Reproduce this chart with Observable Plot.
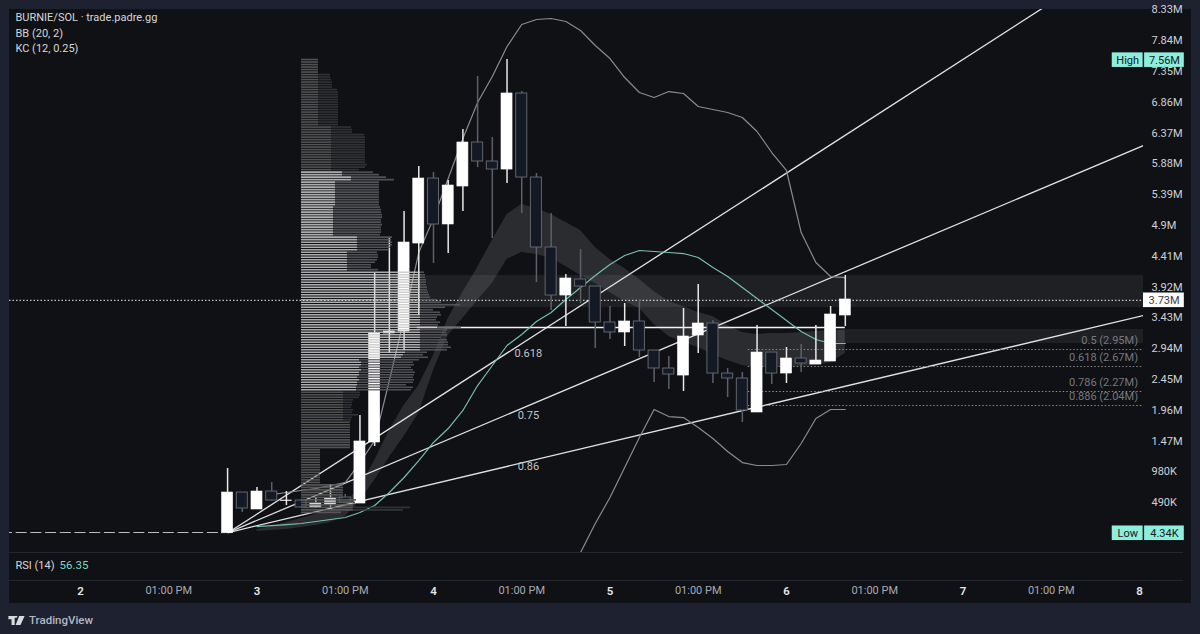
<!DOCTYPE html>
<html>
<head>
<meta charset="utf-8">
<script src="https://cdn.jsdelivr.net/npm/d3@7"></script>
<script src="https://cdn.jsdelivr.net/npm/@observablehq/plot@0.6"></script>
<style>
html,body{margin:0;padding:0;background:#1d2130;width:1200px;height:634px;overflow:hidden}
#wrap{position:absolute;left:9px;top:9px;width:1182px;height:594px;background:#0f1115}
#wrap svg{display:block}
#foot{position:absolute;left:8px;top:603px;height:34px;display:flex;align-items:center;gap:4px;color:#b4b7c0;font:500 11.5px Roboto,sans-serif}
</style>
</head>
<body>
<div id="wrap"></div>
<div id="foot"><svg width="17" height="9" viewBox="0 0 36 20"><path fill="#d8dae0" d="M0 0h14v20H7V7H0zM16 4a4 4 0 1 1 0.01 0zM24 0h12l-9 20H16z"/></svg><span>TradingView</span></div>
<script>
// Flat candles before launch (hours since day 2 00:00)
const flatHours = [-10,-8,-6,-4,-2,0,2,4,6,8,10,12,14,16,18];
const flatPrice = 0.016;
// 2-hour candles, millions
const firstCandleHour = 20;
const opens  = [0.004,0.652,0.382,0.668,0.517,0.525,0.414,0.461,0.573,0.477,1.448,3.182,3.213,4.613,5.647,4.916,5.520,6.220,5.918,5.790,7.000,5.663,4.550,3.786,4.041,3.929,3.357,3.198,3.373,2.911,2.625,2.513,3.150,3.341,2.545,2.466,1.925,2.879,2.545,2.784,2.688,2.736,3.468];
const closes = [0.652,0.398,0.668,0.525,0.525,0.414,0.477,0.557,0.493,1.464,3.182,3.213,4.629,5.647,4.916,5.536,6.220,5.918,5.790,7.000,5.663,4.550,3.786,4.057,3.929,3.357,3.198,3.373,2.911,2.625,2.529,3.134,3.341,2.545,2.466,1.957,2.879,2.545,2.784,2.704,2.752,3.484,3.723];
const highs  = [1.034,0.652,0.732,0.811,0.668,0.541,0.573,0.779,0.620,1.877,4.136,4.693,5.122,5.838,5.743,5.616,6.427,7.270,6.300,7.540,7.031,5.727,5.091,4.120,4.518,3.929,3.611,3.659,3.707,2.911,2.816,3.579,3.961,3.388,2.625,2.561,3.309,2.879,2.959,3.007,3.309,3.611,4.104];
const lows   = [0.004,0.334,0.382,0.509,0.445,0.414,0.398,0.382,0.493,0.477,1.384,2.863,2.911,3.468,4.295,4.454,5.122,5.822,4.693,5.568,5.091,3.993,3.547,3.293,3.659,2.943,3.086,2.975,2.800,2.402,2.291,2.259,2.863,2.386,2.163,1.766,1.925,2.370,2.386,2.561,2.688,2.736,3.293];
// Bollinger upper: candles 3..42; lower: candles 24..42
const bbUpper = [0.620,0.652,0.684,0.716,0.764,0.811,1.129,1.479,2.434,3.420,4.470,5.011,5.647,6.284,6.856,7.270,7.747,8.097,8.177,8.193,8.145,8.002,7.763,7.556,7.254,7.015,6.936,7.031,7.000,6.793,6.745,6.697,6.618,6.395,6.061,5.775,4.788,4.311,4.088,4.072];
const bbLower = [-0.302,0.159,0.573,1.050,1.527,1.973,1.861,1.845,1.686,1.511,1.304,1.129,1.082,1.082,1.098,1.432,1.829,1.973,1.973];
// Teal line and Keltner band: candles 2..42
const tealLine = [0.111,0.127,0.143,0.159,0.191,0.223,0.255,0.334,0.445,0.652,0.891,1.161,1.448,1.670,1.957,2.354,2.673,2.991,3.166,3.373,3.516,3.723,3.913,4.104,4.279,4.422,4.502,4.486,4.470,4.454,4.391,4.232,4.088,3.913,3.738,3.563,3.388,3.213,3.086,3.023,3.023];
const kcUpper = [0.064,0.111,0.175,0.239,0.302,0.366,0.477,0.732,1.161,1.639,2.036,2.354,2.832,3.420,3.834,4.232,4.661,5.075,5.234,5.170,5.075,4.947,4.820,4.550,4.359,4.216,4.041,3.850,3.691,3.611,3.516,3.452,3.309,3.197,3.166,3.182,3.182,3.197,3.213,3.229,3.229];
const kcLower = [0.032,0.048,0.064,0.095,0.127,0.175,0.270,0.525,0.843,1.209,1.543,1.909,2.593,3.150,3.420,3.707,3.977,4.359,4.470,4.438,4.375,4.247,4.104,3.977,3.834,3.691,3.579,3.325,3.134,3.038,2.959,2.848,2.752,2.673,2.641,2.641,2.641,2.657,2.673,2.720,2.863];
// Volume profile rows, top to bottom
const profileTop = 7.54, profileStep = 0.0398, profileHour = 30.05;
const profileUp = [
17,17,17,17,17,17, 17,17,17,17,17,17,
17,17,17,17,17,17,17,17,17,17,17,17,17,17,17,
30,30,30, 30,30,30,30,30,30,30,30,30,30,30,30, 30,30,30,
41,41, 50,50,
34,34,34,34,34,34,34,34,34,34,
32,32,32,32,32,32,32,32,32,32,32,32,
56,56,56,56,56,56,
46,46,46,46,46,46,46,46,
119,119,119,119,119,119,119,119,119,119,119,
119,119,119,119,
119,119,119,119,119,119,119, 136,
119,119,119,119,119,119,119,119,119,
104,102,100,
58,60,60,58,60,58,58,56,58,56,56,55,55,
42,42,42,42, 42,42,42,42,42,42,42,42,
49,49,49,49,49,49,49,49,49,49,49,
19,19,19,19,19,19,19,19,19,19,19,19,19,19,
42,42,42,42,42,42, 52,52,52, 52,52,40];
const profileTotal = [
17,17,17,17,17,17, 29,29,30,31,31,31,
36,37,37,37,37,37,37,37,37,37,37,37,37,37,37,
50,51,51, 63,64,64,64,64,64,64,64,64,64,64,64, 66,64,58,
72,78, 85,93,
78,78,78,78,78,78,78,78,78,78,
79,80,80,81,81,80,80,81,80,80,80,79,
91,90,91,91,89,88,
76,77,77,76,74,70,70,77,
123,124,124,125,125,125,126,126,127,128,129,
135,140,159,144,
132,139,140,136,135,139,137, 160,
146,145,146,140,146,147,147,150,146,
126,122,127,
118,112,113,110,112,114,113,112,113,112,105,112,110,
59,59,58,52, 51,51,50,52,51,57,51,50,
49,49,49,49,49,49,49,49,49,49,49,
19,19,19,19,19,19,19,19,19,19,19,19,19,19,
42,42,42,42,42,42, 55,54,54, 109,102,40];
const valueAreaFirst = 45, valueAreaLast = 132;
// Fib fan: origin and far ends
const fanOrigin = {hour:20.1, price:0.016};
const fanEnds = [{hour:131,price:8.37},{hour:144.55,price:6.172},{hour:144.55,price:3.468}];
const fanLabels = [{t:"0.618",price:2.863},{t:"0.75",price:1.877},{t:"0.86",price:1.066}];
// Levels
const fibPrices = [2.927,2.656,2.259,2.036];
const fibTexts = ["0.5 (2.95M)","0.618 (2.67M)","0.786 (2.27M)","0.886 (2.04M)"];
const pocPrice = 3.277, pocFromHour = 45.8;
const lastPriceLine = 3.71, lastPriceText = "3.73M";
const highPrice = 7.53, highText = "7.56M", lowPrice = 0.004, lowText = "4.34K";
const zones = [{from:40.1,top:4.104,bottom:3.595},{from:103,top:3.245,bottom:3.023}];
// Axes
const yTicks = [8.33,7.84,7.35,6.86,6.37,5.88,5.39,4.9,4.41,3.92,3.43,2.94,2.45,1.96,1.47,0.98,0.49];
const yTickLabels = ["8.33M","7.84M","7.35M","6.86M","6.37M","5.88M","5.39M","4.9M","4.41M","3.92M","3.43M","2.94M","2.45M","1.96M","1.47M","980K","490K"];
const dayHours = [0,24,48,72,96,120,144];
const dayLabels = ["2","3","4","5","6","7","8"];
const noonHours = [12,36,60,84,108,132];
const noonLabel = "01:00 PM";

const xMax = 144.55, xMin = -9.655;
const font = "Roboto, 'Noto Sans', sans-serif";
const candles = opens.map((o,i)=>({h:firstCandleHour+2*i,o,c:closes[i],hi:highs[i],lo:lows[i],up:closes[i]>=o}));
const series = (arr,first)=>arr.map((v,i)=>({h:firstCandleHour+2*(first+i),v}));
const kc = kcUpper.map((u,i)=>({h:firstCandleHour+2*(2+i),u,l:kcLower[i]}));
const volToHours = 1/7.354;
const rows = profileUp.map((u,i)=>({y:profileTop-i*profileStep,u:profileHour+u*volToHours,t:profileHour+profileTotal[i]*volToHours,va:i>=valueAreaFirst&&i<=valueAreaLast}));
const halfBar = 0.75;

const up = candles.filter(d=>d.up), down = candles.filter(d=>!d.up);
const chart = Plot.plot({
  width:1182, height:594, marginLeft:0, marginRight:48, marginTop:0, marginBottom:51,
  style:{background:"transparent",fontFamily:font,fontSize:"11px",overflow:"visible"},
  x:{domain:[xMin,xMax],axis:null},
  y:{domain:[-0.302,8.336],axis:null},
  marks:[
    // zones
    Plot.rect(zones,{x1:"from",x2:()=>xMax,y1:"bottom",y2:"top",fill:"#fff",fillOpacity:0.065}),
    // KC band
    Plot.areaY(kc,{x:"h",y1:"l",y2:"u",fill:"#fff",fillOpacity:0.115,curve:"linear"}),
    // fan
    ...fanEnds.map(e=>Plot.line([fanOrigin,e],{x:"hour",y:"price",stroke:"#e2e2e2",strokeWidth:1.3,clip:true})),
    Plot.ruleY([pocPrice],{x1:pocFromHour,x2:104,stroke:"#f2f2f2",strokeWidth:1.4}),
    // dotted fib levels
    Plot.ruleY(fibPrices,{x1:90.8,x2:xMax,stroke:"#8a8a8a",strokeWidth:1,strokeDasharray:"1.5,2"}),
    Plot.ruleY([lastPriceLine],{x1:xMin,x2:xMax,stroke:"#eeeeee",strokeWidth:1,strokeDasharray:"1.5,2"}),
    // BB, teal
    Plot.line(series(bbUpper,3),{x:"h",y:"v",stroke:"#8b8b8f",strokeWidth:1.2,clip:true}),
    Plot.line(series(bbLower,24),{x:"h",y:"v",stroke:"#8b8b8f",strokeWidth:1.2,clip:true}),
    Plot.line(series(tealLine,2),{x:"h",y:"v",stroke:"#74bfae",strokeWidth:1.2}),
    // flat
    Plot.ruleY(flatHours,{y:()=>flatPrice,x1:d=>d-halfBar,x2:d=>d+halfBar,stroke:"#bdbdbd",strokeWidth:1,clip:true}),
    // candles
    Plot.ruleX(down,{x:"h",y1:"lo",y2:"hi",stroke:"#5e6068",strokeWidth:1.5}),
    Plot.ruleX(up,{x:"h",y1:"lo",y2:"hi",stroke:"#e8e8e8",strokeWidth:1.5}),
    Plot.rect(down,{x1:d=>d.h-halfBar,x2:d=>d.h+halfBar,y1:"c",y2:"o",fill:"#131a26",stroke:"#62656e",strokeWidth:1}),
    Plot.rect(up,{x1:d=>d.h-halfBar,x2:d=>d.h+halfBar,y1:"o",y2:"c",fill:"#ffffff",stroke:"#ffffff",strokeWidth:0.6}),
    // volume profile
    Plot.ruleY(rows,{y:"y",x1:"u",x2:"t",stroke:d=>d.va?"#5c5c60":"#38383c",strokeWidth:1.6,strokeOpacity:0.85}),
    Plot.ruleY(rows,{y:"y",x1:()=>profileHour,x2:"u",stroke:d=>d.va?"#c8c8c8":"#5e5e5e",strokeWidth:1.6,strokeOpacity:0.85}),
    // fan labels
    Plot.text(fanLabels,{x:()=>60.9,y:"price",text:"t",fill:"#c4c4c4",fontSize:11}),
    Plot.text(fibTexts,{x:()=>143.8,y:(d,i)=>fibPrices[i],text:d=>d,textAnchor:"end",dy:-9,fill:"#77787c",fontSize:11}),
    // axes
    Plot.axisY({anchor:"right",ticks:yTicks,tickFormat:(d)=>yTickLabels[yTicks.indexOf(d)],tickSize:0,tickPadding:8,label:null,fill:"#d0d1d6",fontSize:11}),
    Plot.axisX({anchor:"bottom",ticks:dayHours,tickFormat:(d)=>dayLabels[dayHours.indexOf(d)],tickSize:0,tickPadding:34,label:null,fill:"#e6e7ea",fontSize:11.5,fontWeight:600}),
    Plot.axisX({anchor:"bottom",ticks:noonHours,tickFormat:()=>noonLabel,tickSize:0,tickPadding:34,label:null,fill:"#a9abb2",fontSize:11}),
    // pane rules
    Plot.ruleY([-0.302],{x1:xMin,x2:150,stroke:"#23262f",strokeWidth:1}),
    Plot.ruleY([-0.302],{x1:xMin,x2:150,dy:28,stroke:"#23262f",strokeWidth:1}),
    // price tags
    Plot.rect([highPrice],{x1:()=>140.3,x2:()=>144.5,y1:d=>d-0.116,y2:d=>d+0.116,fill:"#8feedb"}),
    Plot.rect([highPrice],{x1:()=>144.7,x2:()=>150.1,y1:d=>d-0.116,y2:d=>d+0.116,fill:"#8feedb"}),
    Plot.rect([lowPrice],{x1:()=>140.3,x2:()=>144.5,y1:d=>d-0.116,y2:d=>d+0.116,fill:"#8feedb"}),
    Plot.rect([lowPrice],{x1:()=>144.7,x2:()=>150.1,y1:d=>d-0.116,y2:d=>d+0.116,fill:"#8feedb"}),
    Plot.rect([lastPriceLine],{x1:()=>144.55,x2:()=>150.1,y1:d=>d-0.116,y2:d=>d+0.116,fill:"#ffffff"}),
    Plot.text(["High"],{x:()=>142.4,y:()=>highPrice,text:d=>d,fill:"#13201e",fontSize:11}),
    Plot.text([highText],{x:()=>147.4,y:()=>highPrice,text:d=>d,fill:"#13201e",fontSize:11}),
    Plot.text(["Low"],{x:()=>142.4,y:()=>lowPrice,text:d=>d,fill:"#13201e",fontSize:11}),
    Plot.text([lowText],{x:()=>147.4,y:()=>lowPrice,text:d=>d,fill:"#13201e",fontSize:11}),
    Plot.text([lastPriceText],{x:()=>147.35,y:()=>lastPriceLine,text:d=>d,fill:"#3a3c42",fontSize:11}),
    // legends
    Plot.text(["BURNIE/SOL · trade.padre.gg"],{frameAnchor:"top-left",dx:6,dy:4,text:d=>d,fill:"#d6d7db",fontSize:11}),
    Plot.text(["BB (20, 2)"],{frameAnchor:"top-left",dx:6,dy:20,text:d=>d,fill:"#d6d7db",fontSize:11}),
    Plot.text(["KC (12, 0.25)"],{frameAnchor:"top-left",dx:6,dy:35,text:d=>d,fill:"#d6d7db",fontSize:11}),
    Plot.text(["RSI (14)"],{frameAnchor:"bottom-left",dx:6,dy:13,lineAnchor:"middle",text:d=>d,fill:"#d6d7db",fontSize:11}),
    Plot.text(["56.35"],{frameAnchor:"bottom-left",dx:50,dy:13,lineAnchor:"middle",text:d=>d,fill:"#7fd6c4",fontSize:11.5})
  ]
});
document.getElementById("wrap").append(chart);
</script>
</body>
</html>
